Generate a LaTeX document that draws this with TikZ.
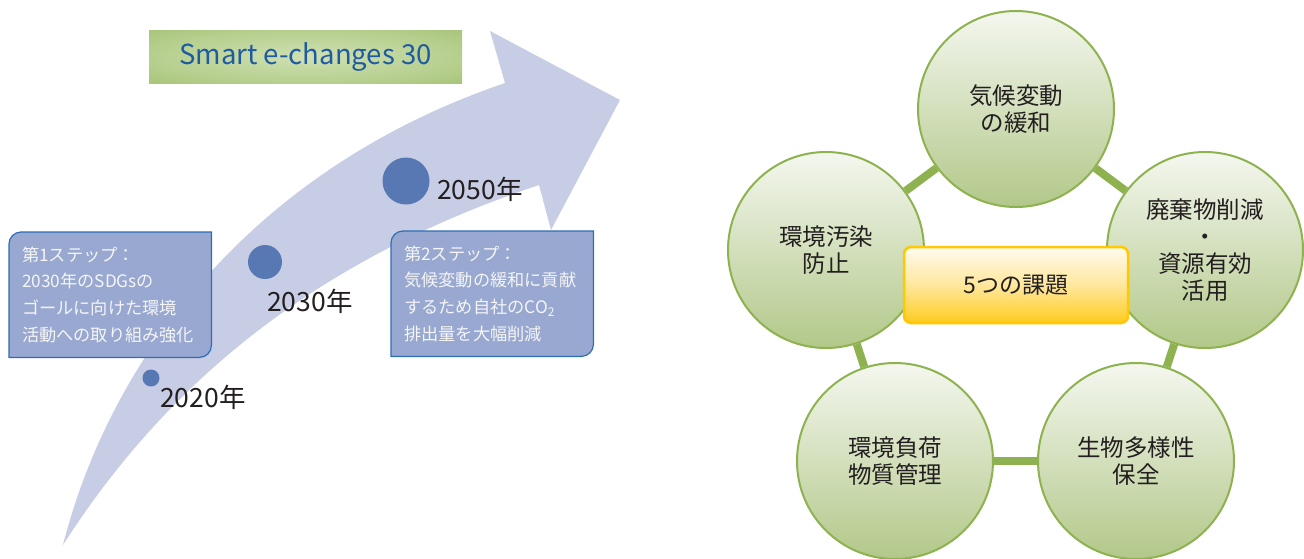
\documentclass[tikz,border=0pt]{standalone}
\usepackage{fontspec}
\setmainfont{Noto Sans CJK JP}
\usepackage{xcolor}
\usetikzlibrary{backgrounds}
\definecolor{arrowblue}{HTML}{C7CDE4}
\definecolor{dotblue}{HTML}{5878B3}
\definecolor{stepfill}{HTML}{98A8D0}
\definecolor{stepline}{HTML}{2E6DB4}
\definecolor{steptext}{HTML}{F5F5F5}
\definecolor{titleblue}{HTML}{1F5B9F}
\definecolor{titlein}{HTML}{CFE0B2}
\definecolor{titleout}{HTML}{9CBD68}
\definecolor{leafgreen}{HTML}{8DB24F}
\definecolor{leaftop}{HTML}{F4F7EF}
\definecolor{leafbot}{HTML}{B2C889}
\definecolor{goldline}{HTML}{FFC800}
\definecolor{goldtop}{HTML}{FFFBEF}
\definecolor{goldmid}{HTML}{FFE79C}
\definecolor{goldbot}{HTML}{FFCB1E}
\definecolor{inktext}{HTML}{231F20}
\pgfdeclareradialshading{glow}{\pgfpoint{0bp}{0bp}}{color(0bp)=(titlein); color(25bp)=(titlein!50!titleout); color(45bp)=(titleout); color(100bp)=(titleout)}
\tikzset{
    YR/.style ={font=\fontsize{26.5}{30}\selectfont, text=inktext, inner sep=0pt, anchor=west},
    DT/.style ={circle, fill=dotblue, inner sep=0pt},
    SB/.style ={rectangle, text width=176pt, minimum height=125pt, align=left, inner xsep=13pt, inner ysep=0pt, text=steptext, font=\fontsize{17.2}{26.7}\selectfont, anchor=north west},
    SF/.style ={fill=stepfill, draw=stepline, line width=1.2pt},
    TB/.style ={rectangle, minimum width=313pt, minimum height=53pt, shading=glow, text=titleblue, font=\fontsize{27.5}{30}\selectfont},
    GC/.style ={circle, minimum size=196pt, inner sep=0pt, draw=leafgreen, line width=2pt, top color=leaftop, bottom color=leafbot, align=center, text=inktext, font=\fontsize{23.5}{27}\selectfont},
    CB/.style ={rectangle, rounded corners=7pt, minimum width=224pt, minimum height=76pt, draw=goldline, line width=2.5pt, top color=goldtop, bottom color=goldbot, middle color=goldmid, text=inktext, font=\fontsize{23}{27}\selectfont},
    LK/.style ={draw=leafgreen, line width=8pt}
}

\begin{document}
\begin{tikzpicture}[x=1pt,y=-1pt]
        \useasboundingbox (0,0) rectangle (1304,558);
        % roadmap
        \node[TB] (title) at (305.5,56.5) {Smart e-changes 30};
        \node[SB] (st1) at (9,232) {第1ステップ：\\2030年のSDGsの\\ゴールに向けた環境\\活動への取り組み強化};
        \node[SB] (st2) at (391,231) {第2ステップ：\\気候変動の緩和に貢献\\するため自社のCO\textsubscript{2}\\排出量を大幅削減};
        \begin{scope}[on background layer]
            \fill[arrowblue] (63,545) .. controls (110,360) and (250,170) .. (505,83)
                -- (490,31) -- (620,100) -- (551,230) -- (539,185)
                .. controls (330,255) and (175,370) .. (63,545) -- cycle;
            \foreach \s in {st1,st2}
                \draw[SF] (\s.west) [rounded corners=12pt] -- (\s.north west) -- (\s.north)
                    [sharp corners] -- (\s.north east) -- (\s.east)
                    [rounded corners=12pt] -- (\s.south east) -- (\s.south)
                    [sharp corners] -- (\s.south west) -- cycle;
        \end{scope}
        \node[DT, minimum size=17pt] (d20) at (151,378) {};
        \node[DT, minimum size=34pt] (d30) at (265,262) {};
        \node[DT, minimum size=47pt] (d50) at (406,181) {};
        \node[YR] (y20) at (160,397) {2020年};
        \node[YR] (y30) at (267,301) {2030年};
        \node[YR] (y50) at (437,189) {2050年};
        % five issues
        \node[GC] (c1) at (1016,109) {気候変動\\の緩和};
        \node[GC] (c2) at (1205,250) {廃棄物削減\\・\\資源有効\\活用};
        \node[GC] (c3) at (1136,461) {生物多様性\\保全};
        \node[GC] (c4) at (895,461) {環境負荷\\物質管理};
        \node[GC] (c5) at (826,250) {環境汚染\\防止};
        \foreach \a/\b in {c1/c2,c2/c3,c3/c4,c4/c5,c5/c1}
            \draw[LK] (\a) -- (\b);
        \node[CB] (core) at (1016,285) {5つの課題};
\end{tikzpicture}
\end{document}
